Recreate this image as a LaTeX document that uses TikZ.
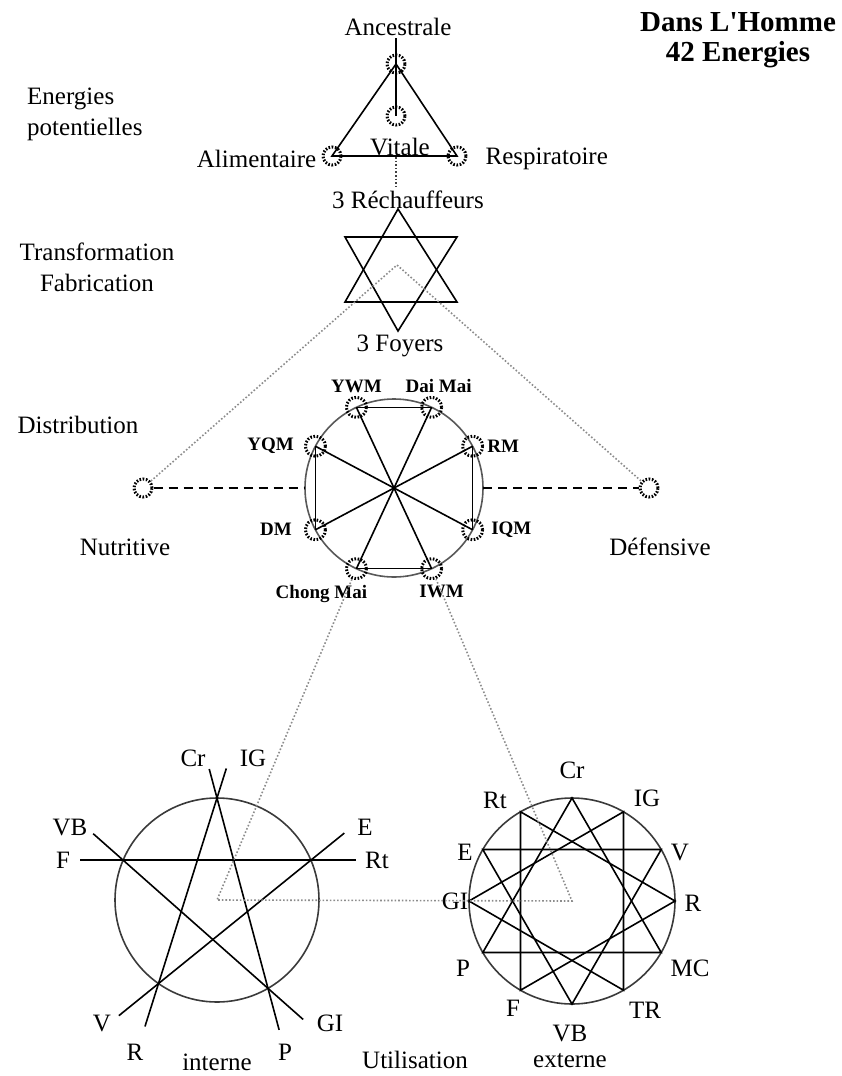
\documentclass[tikz,border=0pt]{standalone}
\usepackage{fontspec}
\setmainfont{Liberation Serif}[Ligatures=TeXOff]
\usepackage{tikz}
\usetikzlibrary{positioning}
\definecolor{dotgrey}{HTML}{8C8C8C}
\definecolor{ringgrey}{HTML}{3A3A3A}

\begin{document}
\begin{tikzpicture}[x=1pt,y=-1pt,font=\fontsize{25}{31}\selectfont,
lbl/.style={inner sep=0pt},
tag/.style={inner sep=0pt,font=\fontsize{19}{22}\selectfont\bfseries},
ttl/.style={inner sep=0pt,font=\fontsize{29}{33}\selectfont\bfseries},
cog/.style={circle,draw,line width=3pt,dash pattern=on 1.6pt off 1.6pt,minimum size=18pt,inner sep=0pt},
ring/.style={circle,draw=ringgrey,line width=1.6pt,inner sep=0pt,outer sep=0pt},
ln/.style={line width=1.6pt},
dots/.style={draw=dotgrey,line width=1.6pt,dotted},
dashln/.style={line width=1.8pt,dash pattern=on 9pt off 6pt}]
\useasboundingbox (0,0) rectangle (842,1076);

% title
\node[ttl] (title1) at (738,22) {Dans L'Homme};
\node[ttl] (title2) at (738,55) {42 Energies};

% stages
\node[lbl,align=left,anchor=west] (potlbl) at (27,114) {Energies\\potentielles};
\node[lbl,align=center] (fablbl) at (97,267) {Transformation\\Fabrication};
\node[lbl] (distlbl) at (78,425) {Distribution};
\node[lbl] (utillbl) at (415,1060) {Utilisation};

% potential energies
\node[cog] (anc) at (396,64) {};
\node[cog] (vit) at (396,116) {};
\node[cog] (ali) at (332,156) {};
\node[cog] (res) at (457,156) {};
\coordinate (anctop) at (396,38);
\coordinate (basemid) at (396,157);
\coordinate (rechtop) at (396,186);
\draw[ln] (anctop) -- (vit.center);
\draw[ln] (anc.center) -- (ali.center) -- (res.center) -- cycle;
\draw[dots,draw=black!75] (basemid) -- (rechtop);
\node[lbl] (anclbl) at (398,27) {Ancestrale};
\node[lbl] (vitlbl) at (400,147) {Vitale};
\node[lbl,left=5pt of ali,yshift=-3pt] (alilbl) {Alimentaire};
\node[lbl,right=18pt of res,yshift=-3pt] (reslbl) {Respiratoire};

% 3 foyers
\node[lbl] (rechlbl) at (408,200) {3 Réchauffeurs};
\coordinate (ua) at (398,209);
\coordinate (ul) at (345,302);
\coordinate (ur) at (457,302);
\coordinate (dl) at (345,237);
\coordinate (dr) at (457,237);
\coordinate (da) at (398,331);
\draw[ln] (ua) -- (ul) -- (ur) -- cycle;
\draw[ln] (dl) -- (dr) -- (da) -- cycle;
\node[lbl] (foylbl) at (400,346) {3 Foyers};

% distribution
\coordinate (fork) at (397,265);
\node[cog] (nut) at (143,488) {};
\node[cog] (def) at (649,488) {};
\draw[dots] (nut) -- (fork) -- (def);
\node[lbl] (nutlbl) at (125,547) {Nutritive};
\node[lbl] (deflbl) at (660,547) {Défensive};

\node[ring,minimum size=178pt,draw=ringgrey!85] (oct) at (394,488) {};
\draw[dashln] (nut) -- (oct.west);
\draw[dashln] (oct.east) -- (def);
\foreach \n/\a in {ywm/115,dai/65,rm/28,iqm/332,iwm/295,chong/245,dm/208,yqm/152}
  \node[cog,minimum size=20pt] (\n) at (oct.\a) {};
\foreach \p/\q in {ywm/iwm,dai/chong,yqm/iqm,rm/dm}
  \draw[ln] (\p.center) -- (\q.center);
\foreach \p/\q in {ywm/dai,chong/iwm,yqm/dm,rm/iqm}
  \draw[ln] (\p.center) -- (\q.center);
\node[tag,above=3pt of ywm] (ywmlbl) {YWM};
\node[tag,above=3pt of dai,xshift=7pt] (dailbl) {Dai Mai};
\node[tag,right=3pt of rm] (rmlbl) {RM};
\node[tag,right=7pt of iqm] (iqmlbl) {IQM};
\node[tag,below=5pt of iwm,xshift=10pt] (iwmlbl) {IWM};
\node[tag,below=5pt of chong,xshift=-35pt] (chonglbl) {Chong Mai};
\node[tag,left=12pt of dm] (dmlbl) {DM};
\node[tag,left=10pt of yqm] (yqmlbl) {YQM};

% utilisation, interne
\node[ring,minimum size=204pt] (int) at (217,900) {};
\draw[ln,shorten <=-43pt,shorten >=-45pt] (int.157) -- (int.23);
\draw[ln,shorten <=-40pt,shorten >=-47pt] (int.157) -- (int.300);
\draw[ln,shorten <=-43pt,shorten >=-51pt] (int.23) -- (int.235);
\draw[ln,shorten <=-30pt,shorten >=-43pt] (int.90) -- (int.300);
\draw[ln,shorten <=-31pt,shorten >=-45pt] (int.90) -- (int.235);
\node[lbl] (icr) at (193,758) {Cr};
\node[lbl] (iig) at (253,758) {IG};
\node[lbl] (ivb) at (70,827) {VB};
\node[lbl] (ie) at (365,827) {E};
\node[lbl] (if) at (63,860) {F};
\node[lbl] (irt) at (377,860) {Rt};
\node[lbl] (iv) at (102,1023) {V};
\node[lbl] (igi) at (330,1023) {GI};
\node[lbl] (ir) at (135,1052) {R};
\node[lbl] (ip) at (285,1052) {P};
\node[lbl] (intlbl) at (217,1062) {interne};

% utilisation, externe
\node[ring,minimum size=206pt] (ext) at (572,901) {};
\foreach \a [evaluate=\a as \b using int(\a+120), evaluate=\a as \c using int(\a+240)] in {0,30,60,90}
  \draw[ln] (ext.\a) -- (ext.\b) -- (ext.\c) -- cycle;
\node[lbl] (ecr) at (572,770) {Cr};
\node[lbl] (eig) at (647,798) {IG};
\node[lbl] (ev) at (680,852) {V};
\node[lbl] (er) at (693,903) {R};
\node[lbl] (emc) at (690,968) {MC};
\node[lbl] (etr) at (645,1010) {TR};
\node[lbl] (evb) at (570,1033) {VB};
\node[lbl] (ef) at (513,1008) {F};
\node[lbl] (ep) at (463,968) {P};
\node[lbl] (egi) at (455,901) {GI};
\node[lbl] (ee) at (465,852) {E};
\node[lbl] (ert) at (495,800) {Rt};
\node[lbl] (extlbl) at (570,1061) {externe};

\draw[dots] (chong) -- (int.center) -- (ext.center) -- (iwm);
\end{tikzpicture}
\end{document}
